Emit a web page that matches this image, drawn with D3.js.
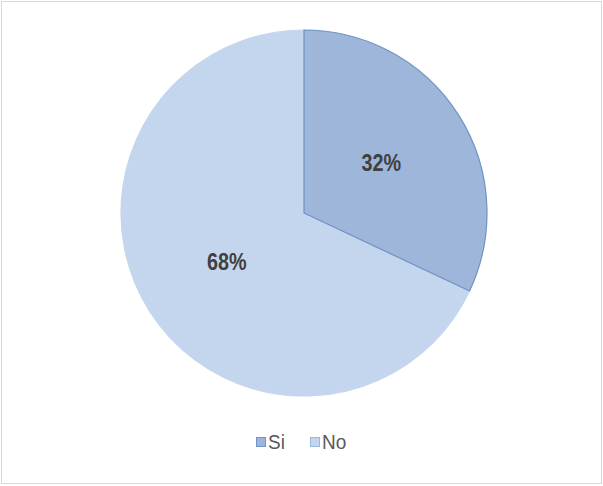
<!DOCTYPE html>
<html>
<head>
<meta charset="utf-8">
<script src="https://cdn.jsdelivr.net/npm/d3@7/dist/d3.min.js"></script>
<style>
  html, body { margin: 0; padding: 0; background: #fff; }
  svg { display: block; }
</style>
</head>
<body>
<svg id="chart" width="603" height="486"></svg>
<script>
// Survey answers: share of respondents per option
const categories = ["Si", "No"];
const values = [32, 68];
const fills = ["#9db6d9", "#c4d6ed"];
const strokes = ["#6f93c4", "#c4d6ed"];

const svg = d3.select("#chart");
const W = 603, H = 486;
const font = "'Liberation Sans Narrow', 'Arial Narrow', 'Liberation Sans', Arial, sans-serif";

// outer frame
svg.append("rect")
  .attr("x", 1.5).attr("y", 1.5)
  .attr("width", W - 3).attr("height", H - 4)
  .attr("fill", "#fff").attr("stroke", "#d9d9d9").attr("stroke-width", 1);

const cx = 304, cy = 213, r = 183;
const data = categories.map((c, i) => ({ cat: c, value: values[i], i }));

const pie = d3.pie().value(d => d.value).sort(null);
const arc = d3.arc().innerRadius(0).outerRadius(r);
const labelArc = d3.arc().innerRadius(r * 0.5).outerRadius(r * 0.5);

const g = svg.append("g").attr("transform", `translate(${cx},${cy})`);
const arcs = pie(data);

// No slice first so the Si edge sits on top
g.selectAll("path.slice")
  .data(arcs.slice().reverse())
  .join("path")
  .attr("class", "slice")
  .attr("d", arc)
  .attr("fill", d => fills[d.data.i])
  .attr("stroke", d => strokes[d.data.i])
  .attr("stroke-width", 1.2)
  .attr("stroke-linejoin", "round");

// percentage labels, condensed horizontally
const total = d3.sum(values);
g.selectAll("text.lbl")
  .data(arcs)
  .join("text")
  .attr("class", "lbl")
  .attr("transform", d => `translate(${labelArc.centroid(d)}) scale(0.86,1)`)
  .attr("text-anchor", "middle")
  .attr("dominant-baseline", "central")
  .attr("font-family", font)
  .attr("font-weight", "bold")
  .attr("font-size", 23)
  .attr("fill", "#404040")
  .text(d => Math.round(d.data.value / total * 100) + "%");

// legend
const legendX = [256, 310];
categories.forEach((c, i) => {
  const it = svg.append("g").attr("transform", `translate(${legendX[i]},442)`);
  it.append("rect")
    .attr("x", 0.5).attr("y", -4.5).attr("width", 9).attr("height", 9)
    .attr("fill", fills[i])
    .attr("stroke", i === 0 ? "#6f93c4" : "#9db6d9").attr("stroke-width", 1);
  it.append("text")
    .attr("transform", "translate(12,0) scale(0.95,1)")
    .attr("dominant-baseline", "central")
    .attr("font-family", font)
    .attr("font-size", 20)
    .attr("fill", "#595959")
    .text(c);
});
</script>
</body>
</html>
